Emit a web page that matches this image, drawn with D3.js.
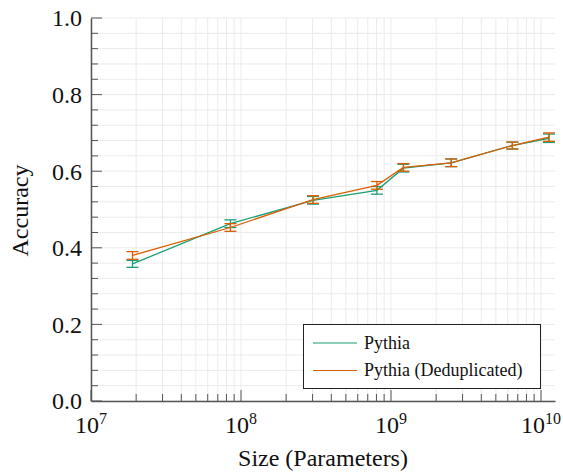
<!DOCTYPE html>
<html>
<head>
<meta charset="utf-8">
<script src="https://cdn.jsdelivr.net/npm/d3@7"></script>
</head>
<body style="margin:0;background:#fff">
<svg id="chart" width="563" height="476" style="display:block"></svg>
<script>
// ---- data ----
const sizes = [1.89e7, 8.5e7, 3.02e8, 8.06e8, 1.21e9, 2.52e9, 6.44e9, 1.13e10];
const seriesNames = ["Pythia", "Pythia (Deduplicated)"];
const pythiaAcc = [0.358, 0.463, 0.524, 0.550, 0.608, 0.622, 0.667, 0.686];
const pythiaErr = [0.009, 0.010, 0.010, 0.010, 0.010, 0.010, 0.009, 0.011];
const dedupAcc = [0.380, 0.453, 0.526, 0.563, 0.610, 0.622, 0.667, 0.689];
const dedupErr = [0.010, 0.010, 0.010, 0.010, 0.010, 0.010, 0.009, 0.011];
const xTickExps = [7, 8, 9, 10];
const yTicks = [0, 0.2, 0.4, 0.6, 0.8, 1.0];
const colors = ["#1b9e77", "#d95f02"];

const FONT = "'Liberation Serif', 'Tinos', monospace";
const svg = d3.select("#chart");
const pLeft = 91, pRight = 555, pTop = 18, pBottom = 401;

const x = d3.scaleLog().domain([1e7, Math.pow(10, 7 + (pRight - pLeft) / 150)]).range([pLeft, pRight]);
const y = d3.scaleLinear().domain([0, 1]).range([pBottom, pTop]);

// grid
const xMinor = [];
for (let e = 7; e <= 10; e++) for (let m = 1; m <= 9; m++) {
  const v = m * Math.pow(10, e);
  if (v >= x.domain()[0] && v <= x.domain()[1]) xMinor.push(v);
}
const yMinor = d3.range(0, 1.0001, 0.04);

const grid = svg.append("g");
grid.selectAll("line.gx").data(xMinor).join("line").attr("class", "gx")
  .attr("x1", d => x(d)).attr("x2", d => x(d))
  .attr("y1", pTop).attr("y2", pBottom)
  .attr("stroke", "#ebebeb").attr("stroke-width", 1);
grid.selectAll("line.gy").data(yMinor).join("line").attr("class", "gy")
  .attr("x1", pLeft).attr("x2", pRight)
  .attr("y1", d => y(d)).attr("y2", d => y(d))
  .attr("stroke", "#ebebeb").attr("stroke-width", 1);

// axes
const axisColor = "#555";
const xAxis = d3.axisBottom(x).tickValues(xMinor).tickSize(0).tickFormat("");
svg.append("g").attr("transform", `translate(0,${pBottom})`).call(xAxis)
  .call(g => g.select(".domain").attr("stroke", axisColor).attr("stroke-width", 1.5));
svg.append("g").selectAll("line").data(xMinor).join("line")
  .attr("x1", d => x(d)).attr("x2", d => x(d))
  .attr("y1", pBottom)
  .attr("y2", d => xTickExps.some(e => Math.abs(Math.pow(10, e) - d) < 1) ? pBottom - 11 : pBottom - 7)
  .attr("stroke", axisColor).attr("stroke-width", 1);

const yAxis = d3.axisLeft(y).tickValues(yMinor).tickSize(0).tickFormat("");
svg.append("g").attr("transform", `translate(${pLeft},0)`).call(yAxis)
  .call(g => g.select(".domain").attr("stroke", axisColor).attr("stroke-width", 1.5));
svg.append("g").selectAll("line").data(yMinor).join("line")
  .attr("y1", d => y(d)).attr("y2", d => y(d))
  .attr("x1", pLeft)
  .attr("x2", (d, i) => i % 5 === 0 ? pLeft + 11 : pLeft + 7)
  .attr("stroke", axisColor).attr("stroke-width", 1);

// tick labels
svg.append("g").selectAll("text").data(yTicks).join("text")
  .attr("font-family", FONT)
  .attr("x", pLeft - 9).attr("y", d => y(d)).attr("dy", "0.35em")
  .attr("text-anchor", "end").attr("font-size", 24).attr("fill", "#111")
  .text(d => d.toFixed(1));

const xl = svg.append("g").selectAll("text").data(xTickExps).join("text")
  .attr("font-family", FONT)
  .attr("x", d => x(Math.pow(10, d))).attr("y", 433)
  .attr("text-anchor", "middle").attr("font-size", 24).attr("fill", "#111");
xl.append("tspan").text("10");
xl.append("tspan").attr("font-size", 16).attr("dy", -9).text(d => d);

// axis titles
svg.append("text").attr("font-family", FONT).attr("x", (pLeft + pRight) / 2).attr("y", 466)
  .attr("text-anchor", "middle").attr("font-size", 24).attr("fill", "#111")
  .text("Size (Parameters)");
svg.append("text").attr("font-family", FONT).attr("transform", `translate(28,${(pTop + pBottom) / 2 + 1}) rotate(-90)`)
  .attr("text-anchor", "middle").attr("font-size", 24).attr("fill", "#111")
  .text("Accuracy");

// series
const seriesData = [
  sizes.map((s, i) => ({ s, v: pythiaAcc[i], e: pythiaErr[i] })),
  sizes.map((s, i) => ({ s, v: dedupAcc[i], e: dedupErr[i] }))
];
const line = d3.line().x(d => x(d.s)).y(d => y(d.v));
seriesData.forEach((data, k) => {
  const g = svg.append("g");
  g.append("path").datum(data).attr("d", line)
    .attr("fill", "none").attr("stroke", colors[k]).attr("stroke-width", 1.3);
  const eb = g.selectAll("g.eb").data(data).join("g").attr("class", "eb");
  eb.append("line").attr("x1", d => x(d.s)).attr("x2", d => x(d.s))
    .attr("y1", d => y(d.v - d.e)).attr("y2", d => y(d.v + d.e))
    .attr("stroke", colors[k]).attr("stroke-width", 1.3);
  [-1, 1].forEach(sg => {
    eb.append("line").attr("x1", d => x(d.s) - 6).attr("x2", d => x(d.s) + 6)
      .attr("y1", d => y(d.v + sg * d.e)).attr("y2", d => y(d.v + sg * d.e))
      .attr("stroke", colors[k]).attr("stroke-width", 1.3);
  });
});

// legend
const lg = svg.append("g");
lg.append("rect").attr("x", 303.5).attr("y", 324.5).attr("width", 237).attr("height", 64)
  .attr("fill", "#fff").attr("stroke", "#222").attr("stroke-width", 1);
seriesNames.forEach((n, i) => {
  const yy = 343 + i * 27.5;
  lg.append("line").attr("x1", 313).attr("x2", 357).attr("y1", yy).attr("y2", yy)
    .attr("stroke", colors[i]).attr("stroke-width", 1.2);
  lg.append("text").attr("font-family", FONT).attr("x", 364).attr("y", yy).attr("dy", "0.33em")
    .attr("font-size", 18).attr("fill", "#111").text(n);
});
</script>
</body>
</html>
